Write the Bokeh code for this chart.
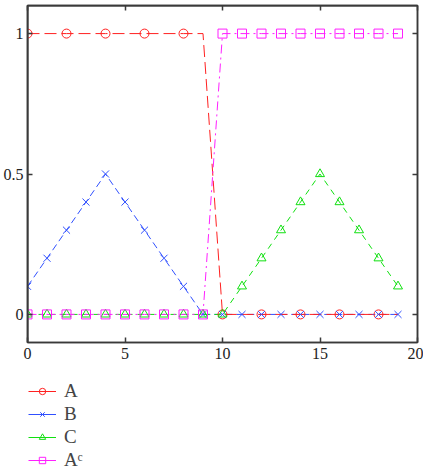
from bokeh.plotting import figure
from bokeh.layouts import column
from bokeh.models import (Range1d, LinearAxis, FixedTicker, Legend, LegendItem,
                          CustomJSTickFormatter, Span)
from bokeh.embed import file_html
from bokeh.resources import INLINE

x = list(range(20))
A = [1, 1, 1, 1, 1, 1, 1, 1, 1, 1, 0, 0, 0, 0, 0, 0, 0, 0, 0, 0]
B = [0.1, 0.2, 0.3, 0.4, 0.5, 0.4, 0.3, 0.2, 0.1, 0, 0, 0, 0, 0, 0, 0, 0, 0, 0, 0]
C = [0, 0, 0, 0, 0, 0, 0, 0, 0, 0, 0, 0.1, 0.2, 0.3, 0.4, 0.5, 0.4, 0.3, 0.2, 0.1]
Ac = [0, 0, 0, 0, 0, 0, 0, 0, 0, 0, 1, 1, 1, 1, 1, 1, 1, 1, 1, 1]
x_ticks = [0, 5, 10, 15, 20]
y_ticks = [0, 0.5, 1]
x_limits = [0, 20]
y_limits = [-0.1, 1.1]
labels = ["A", "B", "C", "A\u1d9c"]

FONT = "Liberation Serif"
FRAME = "#3a3a3a"
COLORS = ["#ff2020", "#3050ff", "#10e010", "#ff20ff"]
DASHES = ["12 5", "7 4", "6 5", "9 4 2 4"]
MARKERS = ["circle", "x", "triangle", "square"]

p = figure(frame_width=390, frame_height=337, output_backend="svg", toolbar_location=None,
           x_range=Range1d(*x_limits), y_range=Range1d(*y_limits),
           min_border_left=18, min_border_right=6, min_border_top=5, min_border_bottom=0)
p.grid.visible = False
p.outline_line_color = FRAME
p.outline_line_width = 1.5
p.background_fill_color = None
p.border_fill_color = None

for ax in p.xaxis + p.yaxis:
    ax.axis_line_color = FRAME
    ax.axis_line_width = 1.5
    ax.major_tick_in = 5
    ax.major_tick_out = 0
    ax.minor_tick_line_color = None
    ax.major_tick_line_color = FRAME
    ax.major_tick_line_width = 1.5
    ax.major_label_text_font = FONT
    ax.major_label_text_font_size = "16px"
    ax.major_label_text_color = "#222222"
p.xaxis.ticker = FixedTicker(ticks=x_ticks)
p.yaxis.ticker = FixedTicker(ticks=y_ticks)
p.xaxis.major_label_standoff = 5
p.yaxis.major_label_standoff = 4

blank = CustomJSTickFormatter(code="return ''")
top = LinearAxis(ticker=FixedTicker(ticks=x_ticks), axis_line_color=FRAME, axis_line_width=1.5,
                 major_tick_in=5, major_tick_out=0, minor_tick_line_color=None, formatter=blank,
                 major_label_standoff=0,
                 major_tick_line_color=FRAME, major_tick_line_width=1.5)
right = LinearAxis(ticker=FixedTicker(ticks=y_ticks), axis_line_color=FRAME, axis_line_width=1.5,
                   major_tick_in=5, major_tick_out=0, minor_tick_line_color=None, formatter=blank,
                   major_label_standoff=0,
                   major_tick_line_color=FRAME, major_tick_line_width=1.5)
p.add_layout(top, "above")
p.add_layout(right, "right")

# frame edges (left and top) drawn again so they stay visible
p.add_layout(Span(location=x_limits[0], dimension="height", line_color=FRAME, line_width=2))
p.add_layout(Span(location=y_limits[1], dimension="width", line_color=FRAME, line_width=2))

series = [A, B, C, Ac]
order = [1, 0, 2, 3]
for i in order:
    p.line(x, series[i], color=COLORS[i], line_width=1, line_dash=DASHES[i])
p.scatter(x[::2], A[::2], marker="circle", size=9, fill_color=None, line_color=COLORS[0])
p.scatter(x, B, marker="x", size=10, line_color=COLORS[1])
p.scatter(x, C, marker="triangle", size=9, fill_color=None, line_color=COLORS[2])
p.scatter(x, Ac, marker="square", size=9, fill_color=None, line_color=COLORS[3])

# legend panel below the plot: same series, but the ranges keep them out of view
lg = figure(width=414, height=110, output_backend="svg", toolbar_location=None,
            x_range=Range1d(100, 101), y_range=Range1d(100, 101),
            x_axis_location=None, y_axis_location=None,
            min_border_left=0, min_border_right=0, min_border_top=0, min_border_bottom=0)
lg.grid.visible = False
lg.outline_line_color = None
lg.background_fill_color = None
lg.border_fill_color = None
items = []
for i in range(4):
    r1 = lg.line(x, series[i], color=COLORS[i], line_width=1)
    r2 = lg.scatter(x, series[i], marker=MARKERS[i], size=9, fill_color=None, line_color=COLORS[i])
    items.append(LegendItem(label=labels[i], renderers=[r1, r2]))
legend = Legend(items=items, location=(1, 0), orientation="vertical", label_text_font=FONT,
                label_text_font_size="19px", glyph_width=28, glyph_height=16, spacing=1,
                border_line_color=None, background_fill_alpha=0, padding=0, margin=0,
                label_standoff=8, label_height=16)
lg.add_layout(legend)

open("out.html", "w").write(file_html(column(p, lg, spacing=0), INLINE))
